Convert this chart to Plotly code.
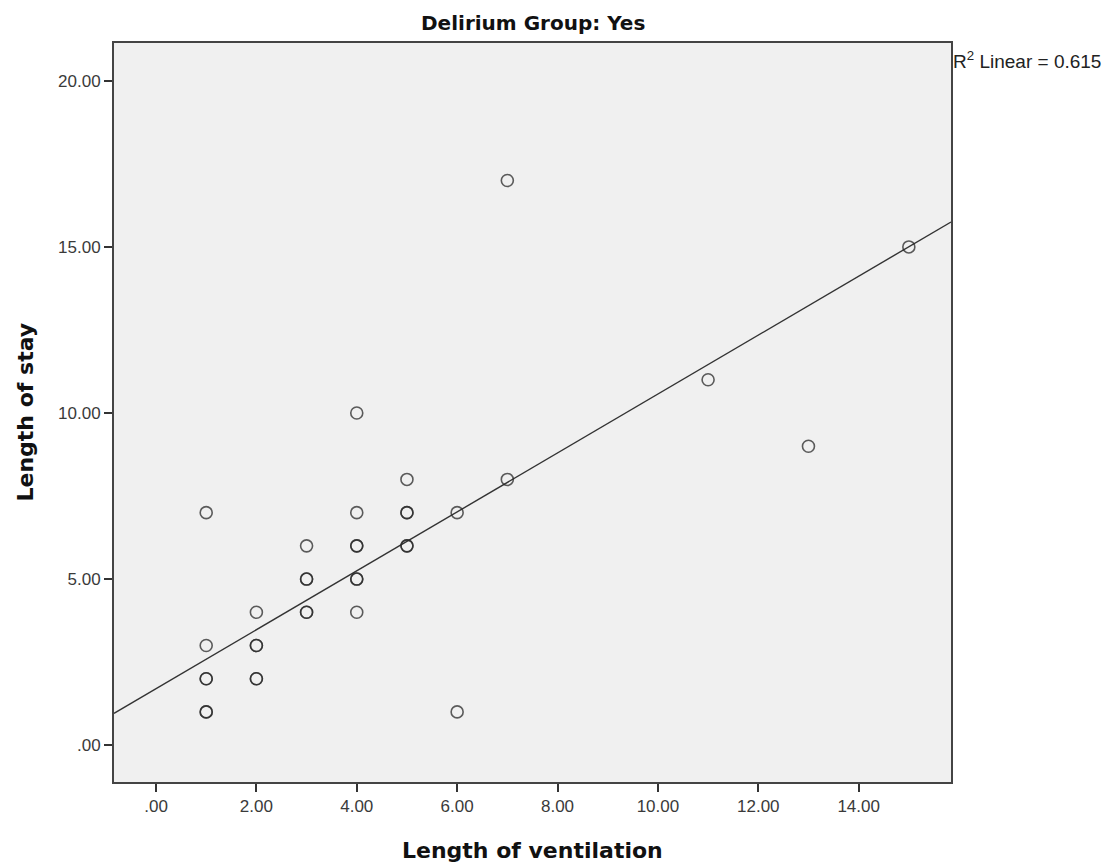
import plotly.graph_objects as go

# Data (duplicates drawn twice -> darker circles)
vent = [1, 1, 1, 1, 2, 2, 2, 3, 3, 3, 4, 4, 4, 4, 4, 5, 5, 5, 6, 6, 7, 7, 11, 13, 15]
stay = [7, 3, 2, 1, 4, 3, 2, 6, 5, 4, 10, 7, 6, 5, 4, 8, 7, 6, 7, 1, 17, 8, 11, 9, 15]
count = [1, 1, 2, 2, 1, 2, 2, 1, 2, 2, 1, 1, 2, 2, 1, 1, 2, 2, 1, 1, 1, 1, 1, 1, 1]

# Fit line
fit_intercept = 1.70
fit_slope = 0.887
r2_text = "R<sup>2</sup> Linear = 0.615"

x_tick_vals = [0, 2, 4, 6, 8, 10, 12, 14]
x_tick_text = [".00", "2.00", "4.00", "6.00", "8.00", "10.00", "12.00", "14.00"]
y_tick_vals = [0, 5, 10, 15, 20]
y_tick_text = [".00", "5.00", "10.00", "15.00", "20.00"]

x_range = [-0.837, 15.84]
y_range = [-1.11, 21.14]

xs, ys = [], []
for xv, yv, c in zip(vent, stay, count):
    for _ in range(c):
        xs.append(xv)
        ys.append(yv)

fig = go.Figure()
line_x = [x_range[0], x_range[1]]
line_y = [fit_intercept + fit_slope * v for v in line_x]
fig.add_trace(go.Scatter(x=line_x, y=line_y, mode="lines",
                         line=dict(color="#333333", width=1.4),
                         hoverinfo="skip", showlegend=False))
fig.add_trace(go.Scatter(x=xs, y=ys, mode="markers",
                         marker=dict(symbol="circle-open", size=12,
                                     color="rgba(40,40,40,0.75)",
                                     line=dict(width=1.6, color="rgba(40,40,40,0.75)")),
                         showlegend=False))

axis_common = dict(showgrid=False, zeroline=False, ticks="outside", ticklen=8,
                   tickwidth=1.5, tickcolor="#333333", showline=True, mirror=True,
                   linecolor="#444444", linewidth=2,
                   tickfont=dict(family="Liberation Sans, Arial", size=17, color="#3a3a3a"))

title_font = dict(family="DejaVu Sans, Verdana", size=22, color="#111111")

fig.update_layout(
    width=1112, height=868,
    margin=dict(l=106, r=169, t=35, b=94),
    paper_bgcolor="white", plot_bgcolor="#f0f0f0",
    xaxis=dict(range=x_range, tickvals=x_tick_vals, ticktext=x_tick_text, **axis_common),
    yaxis=dict(range=y_range, tickvals=y_tick_vals, ticktext=y_tick_text, **axis_common),
    annotations=[
        dict(text="<b>Delirium Group: Yes</b>", x=0.5, xref="paper", y=1.0, yref="paper",
             showarrow=False, xanchor="center", yanchor="middle", yshift=20,
             font=dict(family="DejaVu Sans, Verdana", size=20, color="#111111")),
        dict(text=r2_text, x=1.0, xref="paper", y=1.0, yref="paper", showarrow=False,
             xanchor="left", yanchor="middle", yshift=-17, xshift=0,
             font=dict(family="Liberation Sans, Arial", size=19, color="#222222")),
        dict(text="<b>Length of ventilation</b>", x=0.5, xref="paper", y=0.0, yref="paper",
             showarrow=False, xanchor="center", yanchor="middle", yshift=-68,
             font=title_font),
        dict(text="<b>Length of stay</b>", x=0.0, xref="paper", y=0.5, yref="paper",
             showarrow=False, xanchor="center", yanchor="middle", xshift=-89,
             textangle=-90, font=title_font),
    ],
)

fig.write_html("out.html")
